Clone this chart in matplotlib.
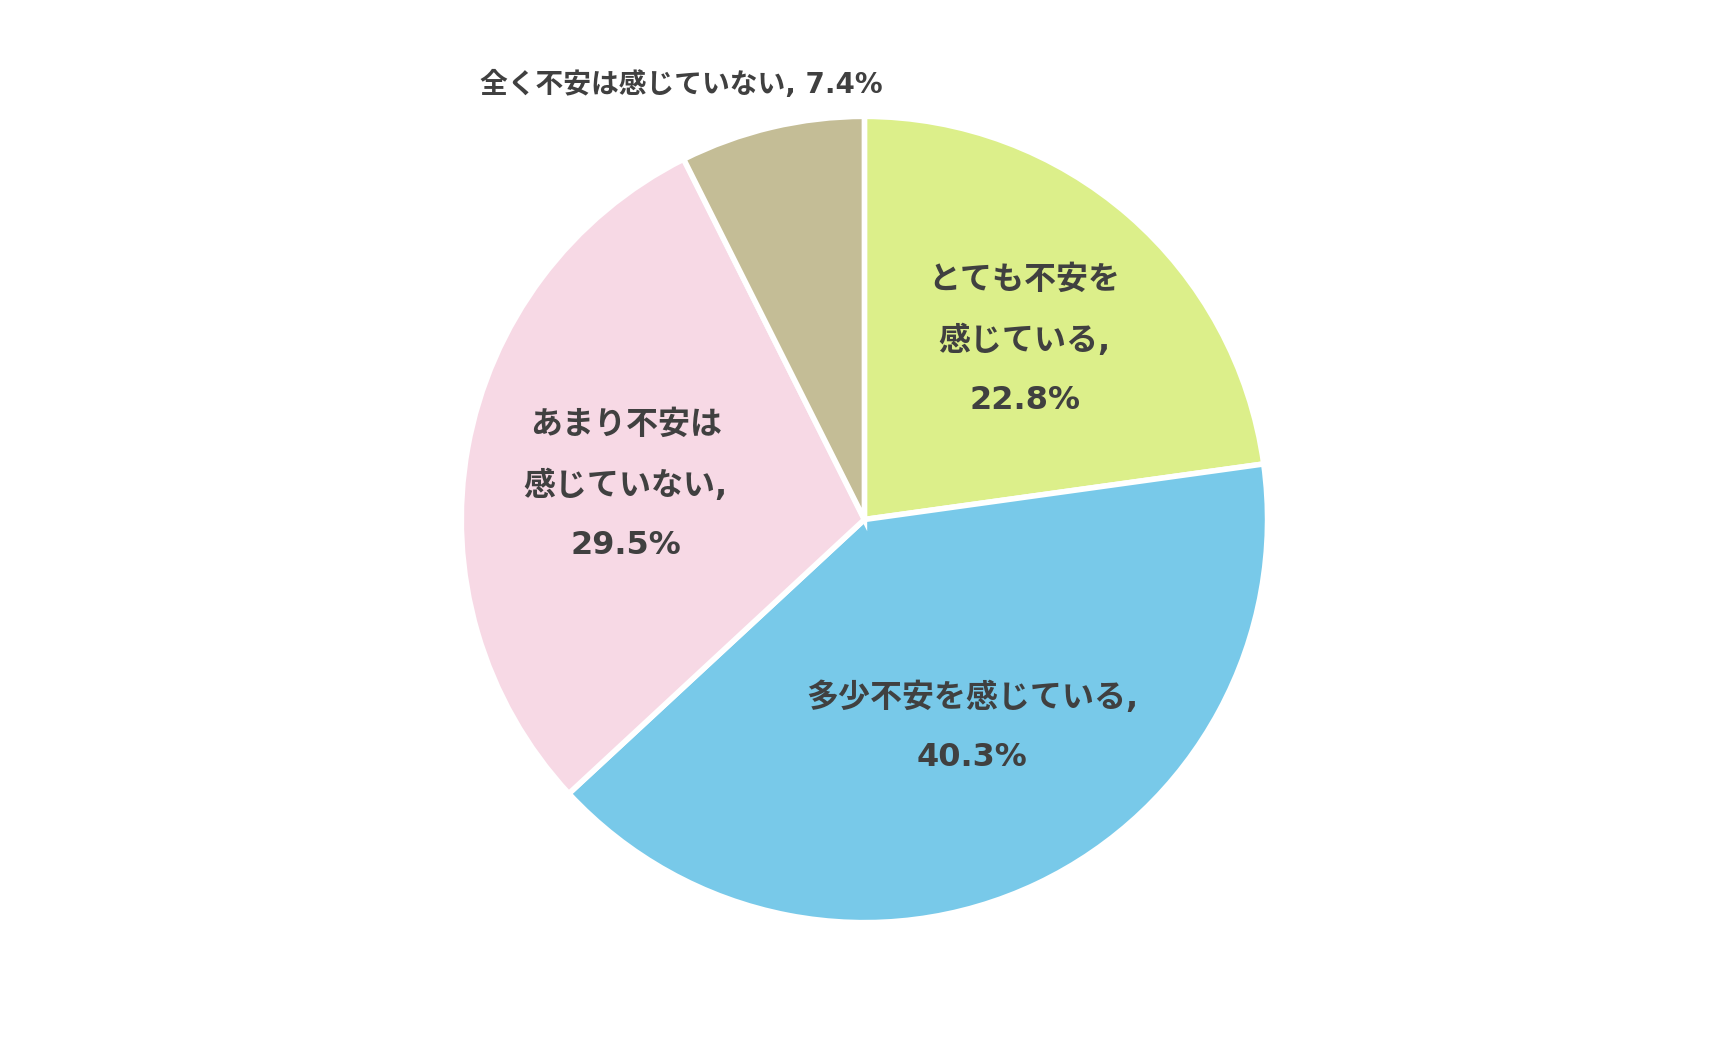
import numpy as np
import matplotlib.pyplot as plt

plt.rcParams['font.family'] = ['DejaVu Sans', 'Noto Sans CJK JP']

# Survey answers, clockwise from 12 o'clock
labels = ['とても不安を\n感じている,\n22.8%',
          '多少不安を感じている,\n40.3%',
          'あまり不安は\n感じていない,\n29.5%',
          '全く不安は感じていない, 7.4%']
values = [22.8, 40.3, 29.5, 7.4]
colors = ['#dcef8a', '#78c9e9', '#f7d9e5', '#c4bd96']

# label placement: distance from centre (radius units), nudge in degrees
label_r = [0.596, 0.58, 0.598, 1.17]
label_nudge = [-0.8, 2.0, 2.1, 9.5]

fig = plt.figure(figsize=(17.33, 10.39), dpi=100)
w = 0.776 * 1039 / 1733
ax = fig.add_axes([0.4988 - w / 2, 0.112, w, 0.776])

wedges, _ = ax.pie(values, colors=colors, startangle=90, counterclock=False,
                   wedgeprops=dict(edgecolor='white', linewidth=4), radius=1.0)

cum = np.cumsum([0] + values[:-1])
for i in range(4):
    mid = np.deg2rad(90 - (cum[i] + values[i] / 2) * 3.6 + label_nudge[i])
    r = label_r[i]
    if i < 3:
        ax.text(r * np.cos(mid), r * np.sin(mid), labels[i], ha='center', va='center',
                fontsize=23, fontweight='bold', color='#404040', linespacing=2.15)
    else:
        ax.text(r * np.cos(mid), r * np.sin(mid), labels[i], ha='center', va='center',
                fontsize=20, fontweight='bold', color='#404040')

ax.set_xlim(-1.0, 1.0)
ax.set_ylim(-1.0, 1.0)
ax.set_aspect('equal')
ax.axis('off')

fig.savefig('out.png', dpi=100)
